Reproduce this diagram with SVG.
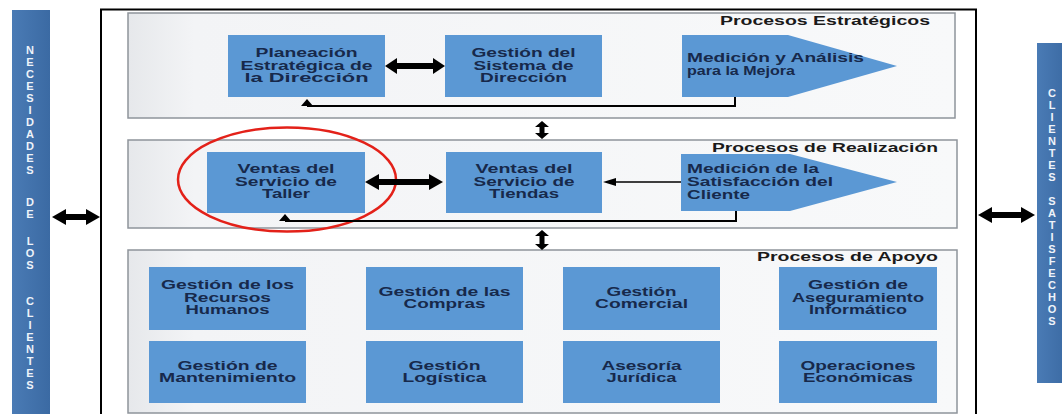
<svg xmlns="http://www.w3.org/2000/svg" width="1062" height="414" viewBox="0 0 1062 414">
<defs>
<linearGradient id="pg" x1="0" y1="0" x2="1" y2="0">
<stop offset="0" stop-color="#e6e8eb"/>
<stop offset="0.08" stop-color="#f3f4f6"/>
<stop offset="1" stop-color="#f8f9fa"/>
</linearGradient>
<linearGradient id="bar" x1="0" y1="0" x2="1" y2="0">
<stop offset="0" stop-color="#4a7bb5"/>
<stop offset="1" stop-color="#3b6aa3"/>
</linearGradient>
</defs>
<style>
.panel{fill:url(#pg);stroke:#8e949b;stroke-width:1.5}
.box{fill:#5b98d4}
.t{font-family:"Liberation Sans",Arial,sans-serif;font-weight:bold;font-size:12px;fill:#17294b}
.tc{text-anchor:middle}
.title{font-family:"Liberation Sans",Arial,sans-serif;font-weight:bold;font-size:12px;fill:#1a1a1a;text-anchor:end}
.side{font-family:"Liberation Sans",Arial,sans-serif;font-weight:bold;font-size:11px;fill:#eef3fa;text-anchor:middle}
.arr{fill:#000}
.ln{fill:none;stroke:#000;stroke-width:2}
.thin{fill:none;stroke:#000;stroke-width:1.5}
</style>
<rect width="1062" height="414" fill="#ffffff"/>

<g id="necesidades">
<rect x="12" y="10" width="38" height="410" fill="url(#bar)"/>
<text class="side" x="30">
<tspan x="30" y="54">N</tspan><tspan x="30" y="66">E</tspan><tspan x="30" y="78">C</tspan><tspan x="30" y="90">E</tspan><tspan x="30" y="102">S</tspan><tspan x="30" y="114">I</tspan><tspan x="30" y="126">D</tspan><tspan x="30" y="138">A</tspan><tspan x="30" y="150">D</tspan><tspan x="30" y="162">E</tspan><tspan x="30" y="174">S</tspan><tspan x="30" y="206">D</tspan><tspan x="30" y="218">E</tspan><tspan x="30" y="245">L</tspan><tspan x="30" y="257">O</tspan><tspan x="30" y="269">S</tspan><tspan x="30" y="305">C</tspan><tspan x="30" y="317">L</tspan><tspan x="30" y="329">I</tspan><tspan x="30" y="341">E</tspan><tspan x="30" y="353">N</tspan><tspan x="30" y="365">T</tspan><tspan x="30" y="377">E</tspan><tspan x="30" y="389">S</tspan>
</text>
</g>

<g id="satisfechos">
<rect x="1037" y="43" width="30" height="340" fill="url(#bar)"/>
<text class="side" x="1052">
<tspan x="1052" y="97">C</tspan><tspan x="1052" y="109">L</tspan><tspan x="1052" y="121">I</tspan><tspan x="1052" y="133">E</tspan><tspan x="1052" y="145">N</tspan><tspan x="1052" y="157">T</tspan><tspan x="1052" y="169">E</tspan><tspan x="1052" y="181">S</tspan><tspan x="1052" y="205">S</tspan><tspan x="1052" y="217">A</tspan><tspan x="1052" y="229">T</tspan><tspan x="1052" y="241">I</tspan><tspan x="1052" y="253">S</tspan><tspan x="1052" y="265">F</tspan><tspan x="1052" y="277">E</tspan><tspan x="1052" y="289">C</tspan><tspan x="1052" y="301">H</tspan><tspan x="1052" y="313">O</tspan><tspan x="1052" y="325">S</tspan>
</text>
</g>

<g id="outer">
<rect x="101" y="9.5" width="875" height="420" fill="none" stroke="#000" stroke-width="2"/>
</g>

<g id="estrategicos">
<rect class="panel" x="128" y="13" width="827" height="105"/>
<text class="title" x="930" y="25" textLength="210" lengthAdjust="spacingAndGlyphs">Procesos Estratégicos</text>
</g>
<g id="realizacion">
<rect class="panel" x="128" y="140" width="829" height="88"/>
<text class="title" x="938" y="152" textLength="226" lengthAdjust="spacingAndGlyphs">Procesos de Realización</text>
</g>
<g id="apoyo">
<rect class="panel" x="128" y="250" width="829" height="163"/>
<text class="title" x="938" y="261" textLength="181" lengthAdjust="spacingAndGlyphs">Procesos de Apoyo</text>
</g>

<g id="planeacion">
<rect class="box" x="228" y="35" width="157" height="62"/>
<text class="t tc" x="306.5" y="57" textLength="102" lengthAdjust="spacingAndGlyphs">Planeación</text>
<text class="t tc" x="306.5" y="70" textLength="132" lengthAdjust="spacingAndGlyphs">Estratégica de</text>
<text class="t tc" x="306.5" y="82" textLength="124" lengthAdjust="spacingAndGlyphs">la Dirección</text>
</g>
<g id="gestion-sistema">
<rect class="box" x="445" y="35" width="157" height="62"/>
<text class="t tc" x="523.5" y="57" textLength="104" lengthAdjust="spacingAndGlyphs">Gestión del</text>
<text class="t tc" x="523.5" y="70" textLength="100" lengthAdjust="spacingAndGlyphs">Sistema de</text>
<text class="t tc" x="523.5" y="82" textLength="87" lengthAdjust="spacingAndGlyphs">Dirección</text>
</g>
<g id="medicion-analisis">
<polygon class="box" points="682,35 788,35 897,66 788,97 682,97"/>
<text class="t" x="687" y="62" textLength="177" lengthAdjust="spacingAndGlyphs">Medición y Análisis</text>
<text class="t" x="687" y="75" textLength="108" lengthAdjust="spacingAndGlyphs">para la Mejora</text>
</g>

<g id="ventas-taller">
<rect class="box" x="207" y="152" width="158" height="61"/>
<text class="t tc" x="286" y="173" textLength="97" lengthAdjust="spacingAndGlyphs">Ventas del</text>
<text class="t tc" x="286" y="186" textLength="102" lengthAdjust="spacingAndGlyphs">Servicio de</text>
<text class="t tc" x="286" y="198" textLength="48" lengthAdjust="spacingAndGlyphs">Taller</text>
</g>
<g id="ventas-tiendas">
<rect class="box" x="446" y="152" width="156" height="61"/>
<text class="t tc" x="524" y="173" textLength="97" lengthAdjust="spacingAndGlyphs">Ventas del</text>
<text class="t tc" x="524" y="186" textLength="101" lengthAdjust="spacingAndGlyphs">Servicio de</text>
<text class="t tc" x="524" y="198" textLength="70" lengthAdjust="spacingAndGlyphs">Tiendas</text>
</g>
<g id="medicion-satisfaccion">
<polygon class="box" points="681,154 790,154 897,182 790,211 681,211"/>
<text class="t" x="687" y="173" textLength="132" lengthAdjust="spacingAndGlyphs">Medición de la</text>
<text class="t" x="687" y="186" textLength="146" lengthAdjust="spacingAndGlyphs">Satisfacción del</text>
<text class="t" x="687" y="199" textLength="63" lengthAdjust="spacingAndGlyphs">Cliente</text>
</g>

<g id="rrhh">
<rect class="box" x="149" y="267" width="157" height="63"/>
<text class="t tc" x="227.5" y="289" textLength="133" lengthAdjust="spacingAndGlyphs">Gestión de los</text>
<text class="t tc" x="227.5" y="302" textLength="87" lengthAdjust="spacingAndGlyphs">Recursos</text>
<text class="t tc" x="227.5" y="314" textLength="84" lengthAdjust="spacingAndGlyphs">Humanos</text>
</g>
<g id="compras">
<rect class="box" x="366" y="267" width="157" height="63"/>
<text class="t tc" x="444.5" y="296" textLength="132" lengthAdjust="spacingAndGlyphs">Gestión de las</text>
<text class="t tc" x="444.5" y="308" textLength="82" lengthAdjust="spacingAndGlyphs">Compras</text>
</g>
<g id="comercial">
<rect class="box" x="563" y="267" width="157" height="63"/>
<text class="t tc" x="641.5" y="296" textLength="70" lengthAdjust="spacingAndGlyphs">Gestión</text>
<text class="t tc" x="641.5" y="308" textLength="93" lengthAdjust="spacingAndGlyphs">Comercial</text>
</g>
<g id="informatico">
<rect class="box" x="779" y="267" width="158" height="63"/>
<text class="t tc" x="858" y="289" textLength="100" lengthAdjust="spacingAndGlyphs">Gestión de</text>
<text class="t tc" x="858" y="302" textLength="132" lengthAdjust="spacingAndGlyphs">Aseguramiento</text>
<text class="t tc" x="858" y="314" textLength="98" lengthAdjust="spacingAndGlyphs">Informático</text>
</g>
<g id="mantenimiento">
<rect class="box" x="149" y="341" width="157" height="62"/>
<text class="t tc" x="227.5" y="370" textLength="100" lengthAdjust="spacingAndGlyphs">Gestión de</text>
<text class="t tc" x="227.5" y="382" textLength="137" lengthAdjust="spacingAndGlyphs">Mantenimiento</text>
</g>
<g id="logistica">
<rect class="box" x="366" y="341" width="157" height="62"/>
<text class="t tc" x="444.5" y="370" textLength="72" lengthAdjust="spacingAndGlyphs">Gestión</text>
<text class="t tc" x="444.5" y="382" textLength="84" lengthAdjust="spacingAndGlyphs">Logística</text>
</g>
<g id="juridica">
<rect class="box" x="563" y="341" width="157" height="62"/>
<text class="t tc" x="641.5" y="370" textLength="80" lengthAdjust="spacingAndGlyphs">Asesoría</text>
<text class="t tc" x="641.5" y="382" textLength="70" lengthAdjust="spacingAndGlyphs">Jurídica</text>
</g>
<g id="economicas">
<rect class="box" x="779" y="341" width="158" height="62"/>
<text class="t tc" x="858" y="370" textLength="115" lengthAdjust="spacingAndGlyphs">Operaciones</text>
<text class="t tc" x="858" y="382" textLength="110" lengthAdjust="spacingAndGlyphs">Económicas</text>
</g>

<g id="highlight">
<ellipse cx="287" cy="179.5" rx="109" ry="52" fill="none" stroke="#e32119" stroke-width="2.5"/>
</g>

<g id="connectors">
<polygon class="arr" points="385,66 397,58 397,63 433,63 433,58 445,66 433,74 433,69 397,69 397,74"/>
<polygon class="arr" points="365,182 379,174 379,179 429,179 429,174 443,182 429,190 429,185 379,185 379,190"/>
<polygon class="arr" points="52,217 66,209 66,214 86,214 86,209 100,217 86,225 86,220 66,220 66,225"/>
<polygon class="arr" points="978,215 992,207 992,212 1021,212 1021,207 1035,215 1021,223 1021,218 992,218 992,223"/>
<polygon class="arr" points="542,121 549,127 544.5,127 544.5,133 549,133 542,139 535,133 539.5,133 539.5,127 535,127"/>
<polygon class="arr" points="542,230 549,236 544.5,236 544.5,244 549,244 542,250 535,244 539.5,244 539.5,236 535,236"/>
<polyline class="ln" points="735,97 735,106 307,106"/>
<polygon class="arr" points="301,106 313,106 307,99"/>
<polyline class="ln" points="736,211 736,221 285,221"/>
<polygon class="arr" points="279,221 291,221 285,214"/>
<line class="thin" x1="681" y1="182" x2="614" y2="182"/>
<polygon class="arr" points="603,182 616,178 616,186"/>
</g>
</svg>
